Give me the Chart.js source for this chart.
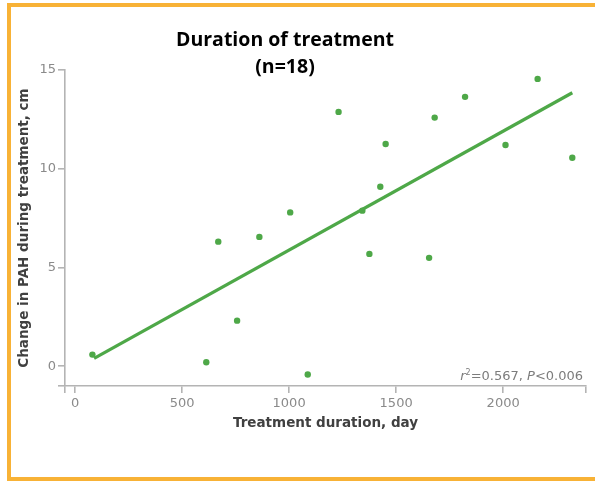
<!DOCTYPE html>
<html>
<head>
<meta charset="utf-8">
<script src="https://cdn.jsdelivr.net/npm/chart.js@4/dist/chart.umd.min.js"></script>
<style>
  html, body { margin: 0; padding: 0; background: #fff; }
  #wrap { position: relative; width: 595px; height: 481px; overflow: hidden; }
  #frame {
    position: absolute; left: 7px; top: 3px; width: 620px; height: 478px;
    box-sizing: border-box; border: 4px solid #f8b236; border-right: none;
  }
  canvas { position: absolute; left: 0; top: 0; }
</style>
</head>
<body>
<div id="wrap">
  <div id="frame"></div>
  <canvas id="chart" width="595" height="481"></canvas>
</div>
<script>
// values: treatment duration (days) vs change in PAH (cm)
const durationDays = [81, 613, 669, 757, 861, 1005, 1087, 1231, 1342, 1375, 1426, 1451, 1654, 1680, 1822, 2011, 2161, 2323];
const pahChange = [0.59, 0.20, 6.31, 2.31, 6.55, 7.79, -0.42, 12.88, 7.88, 5.69, 9.09, 11.25, 5.49, 12.59, 13.64, 11.20, 14.55, 10.56];

// fitted line end points
const fitX = [89, 2323];
const fitY = [0.40, 13.85];

const xTicks = [0, 500, 1000, 1500, 2000];
const yTicks = [0, 5, 10, 15];
const xRange = [-47, 2387];
const yRange = [-1, 15];

const titleLines = ['Duration of treatment', '(n=18)'];
const statsText = [
  { t: 'r', italic: true },
  { t: '2', sup: true },
  { t: '=0.567, ' },
  { t: 'P', italic: true },
  { t: '<0.006' }
];

const GREEN = 'rgb(78, 168, 72)';
const AXIS = '#b4b4b4';
const TICK_TXT = '#8a8a8a';
const LABEL_TXT = '#404040';
const FONT = "'DejaVu Sans', sans-serif";

const points = durationDays.map((d, i) => ({ x: d, y: pahChange[i] }));
const fitLine = fitX.map((d, i) => ({ x: d, y: fitY[i] }));

// r² / P note in the lower right of the plot
const statsNote = {
  id: 'statsNote',
  afterDatasetsDraw(chart) {
    const { ctx, chartArea } = chart;
    ctx.save();
    ctx.fillStyle = '#7c7c7c';
    ctx.textBaseline = 'alphabetic';
    const fontFor = (s) => (s.italic ? 'italic ' : '') + (s.sup ? 8 : 13) + 'px ' + FONT;
    let width = 0;
    statsText.forEach(s => { ctx.font = fontFor(s); width += ctx.measureText(s.t).width; });
    let x = chartArea.right - 3 - width;
    const y = chartArea.bottom - 6;
    statsText.forEach(s => {
      ctx.font = fontFor(s);
      ctx.fillText(s.t, x, s.sup ? y - 5 : y);
      x += ctx.measureText(s.t).width;
    });
    ctx.restore();
  }
};

new Chart(document.getElementById('chart'), {
  type: 'scatter',
  data: {
    datasets: [
      {
        type: 'line',
        data: fitLine,
        borderColor: GREEN,
        borderWidth: 3.2,
        pointRadius: 0,
        fill: false
      },
      {
        data: points,
        backgroundColor: GREEN,
        borderWidth: 0,
        pointRadius: 3.2
      }
    ]
  },
  options: {
    responsive: false,
    animation: false,
    // negative left padding shifts the centred title a little to the left
    layout: { padding: { left: -16, right: 9, top: 0, bottom: 0 } },
    plugins: {
      legend: { display: false },
      tooltip: { enabled: false },
      title: {
        display: true,
        text: titleLines,
        color: '#000',
        font: { family: "'Open Sans', sans-serif", size: 19.5, weight: 'bold', lineHeight: 1.385 },
        padding: { top: 27, bottom: -11 }
      }
    },
    scales: {
      x: {
        type: 'linear',
        min: xRange[0],
        max: xRange[1],
        afterBuildTicks: (s) => { s.ticks = [xRange[0], ...xTicks, xRange[1]].map(v => ({ value: v })); },
        afterFit: (s) => { s.height = 95; },
        border: { display: true, color: AXIS, width: 1.6 },
        grid: { drawOnChartArea: false, drawTicks: true, tickLength: 7, color: AXIS, lineWidth: 1.6 },
        ticks: {
          color: TICK_TXT,
          font: { family: FONT, size: 13 },
          padding: 3,
          maxRotation: 0,
          callback: (v) => (xTicks.includes(v) ? String(v) : '')
        },
        title: {
          display: true,
          text: 'Treatment duration, day',
          color: LABEL_TXT,
          font: { family: FONT, size: 13.5, weight: 'bold' },
          padding: { top: 0, bottom: 49 }
        }
      },
      y: {
        type: 'linear',
        min: yRange[0],
        max: yRange[1],
        afterBuildTicks: (s) => { s.ticks = [yRange[0], ...yTicks].map(v => ({ value: v })); },
        afterFit: (s) => { s.width = 81; },
        border: { display: true, color: AXIS, width: 1.6 },
        grid: { drawOnChartArea: false, drawTicks: true, tickLength: 7, color: AXIS, lineWidth: 1.6 },
        ticks: {
          color: TICK_TXT,
          font: { family: FONT, size: 13 },
          padding: 2,
          callback: (v) => (yTicks.includes(v) ? String(v) : '')
        },
        title: {
          display: true,
          text: 'Change in PAH during treatment, cm',
          color: LABEL_TXT,
          font: { family: FONT, size: 13.5, weight: 'bold' },
          padding: { top: 32, bottom: 0 }
        }
      }
    }
  },
  plugins: [statsNote]
});
</script>
</body>
</html>
